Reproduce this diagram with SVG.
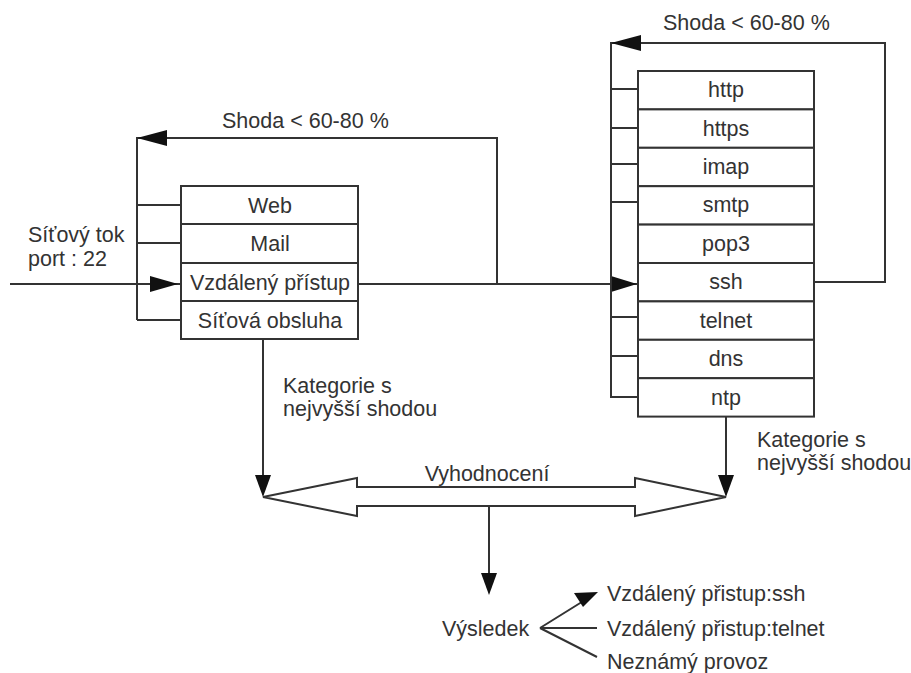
<svg xmlns="http://www.w3.org/2000/svg" width="911" height="673" viewBox="0 0 911 673">
<style>
text{font-family:"Liberation Sans",Arial,sans-serif;font-size:21.5px;fill:#333}
.c{text-anchor:middle}
.box{fill:#fff;stroke:#333;stroke-width:2}
.ln{fill:none;stroke:#333;stroke-width:2}
.ah{fill:#111;stroke:none}
</style>
<rect width="911" height="673" fill="#fff"/>
<g id="connectors">
<path class="ln" d="M181,205 H137 M181,243 H137 M181,320 H137 M137,320 V138 H497 V284"/>
<polygon class="ah" points="137,138 167,130 167,146"/>
<path class="ln" d="M10,284 H181"/>
<polygon class="ah" points="178,284 150,276 150,292"/>
<path class="ln" d="M358,284 H638"/>
<polygon class="ah" points="637,284 611,276 611,292"/>
<path class="ln" d="M814,282 H885 V43 H611 V397 H638 M611,89 H638 M611,128 H638 M611,164 H638 M611,202 H638 M611,317 H638 M611,356 H638"/>
<polygon class="ah" points="611,43 641,35 641,51"/>
<path class="ln" d="M263,339 V480 M726,417 V480"/>
<polygon class="ah" points="263,497 255,475 271,475"/>
<polygon class="ah" points="726,497 718,475 734,475"/>
<polygon class="ln" points="263,497 357,478 357,487 635,487 635,478 726,497 635,516 635,506 357,506 357,516"/>
<path class="ln" d="M489,506 V578"/>
<polygon class="ah" points="489,595 481,573 497,573"/>
<path class="ln" d="M540,628 L585,600 M540,628 H597 M540,628 L597,657"/>
<polygon class="ah" points="598,592 574,593 583,607"/>
</g>
<g id="left-box">
<rect class="box" x="181" y="186" width="177" height="38"/>
<rect class="box" x="181" y="224" width="177" height="39"/>
<rect class="box" x="181" y="263" width="177" height="38"/>
<rect class="box" x="181" y="301" width="177" height="38"/>
<text class="c" x="270" y="213">Web</text>
<text class="c" x="270" y="251">Mail</text>
<text class="c" x="270" y="290">Vzdálený přístup</text>
<text class="c" x="270" y="328">Síťová obsluha</text>
</g>
<g id="right-box">
<rect class="box" x="638" y="71" width="176" height="38.4"/>
<rect class="box" x="638" y="109.4" width="176" height="38.4"/>
<rect class="box" x="638" y="147.8" width="176" height="38.4"/>
<rect class="box" x="638" y="186.2" width="176" height="38.4"/>
<rect class="box" x="638" y="224.6" width="176" height="38.4"/>
<rect class="box" x="638" y="263" width="176" height="38.4"/>
<rect class="box" x="638" y="301.4" width="176" height="38.4"/>
<rect class="box" x="638" y="339.8" width="176" height="38.4"/>
<rect class="box" x="638" y="378.2" width="176" height="38.4"/>
<text class="c" x="726" y="97">http</text>
<text class="c" x="726" y="136">https</text>
<text class="c" x="726" y="174">imap</text>
<text class="c" x="726" y="212">smtp</text>
<text class="c" x="726" y="251">pop3</text>
<text class="c" x="726" y="289">ssh</text>
<text class="c" x="726" y="328">telnet</text>
<text class="c" x="726" y="366">dns</text>
<text class="c" x="726" y="405">ntp</text>
</g>
<g id="labels">
<text x="222" y="128">Shoda &lt; 60-80 %</text>
<text x="663" y="30">Shoda &lt; 60-80 %</text>
<text x="28" y="242">Síťový tok</text>
<text x="28" y="266">port : 22</text>
<text x="283" y="393">Kategorie s</text>
<text x="283" y="416">nejvyšší shodou</text>
<text x="757" y="447">Kategorie s</text>
<text x="757" y="470">nejvyšší shodou</text>
<text class="c" x="487" y="481">Vyhodnocení</text>
</g>
<g id="result">
<text x="442" y="636">Výsledek</text>
<text x="607" y="601">Vzdálený přistup:ssh</text>
<text x="607" y="636">Vzdálený přistup:telnet</text>
<text x="607" y="669">Neznámý provoz</text>
</g>
</svg>
